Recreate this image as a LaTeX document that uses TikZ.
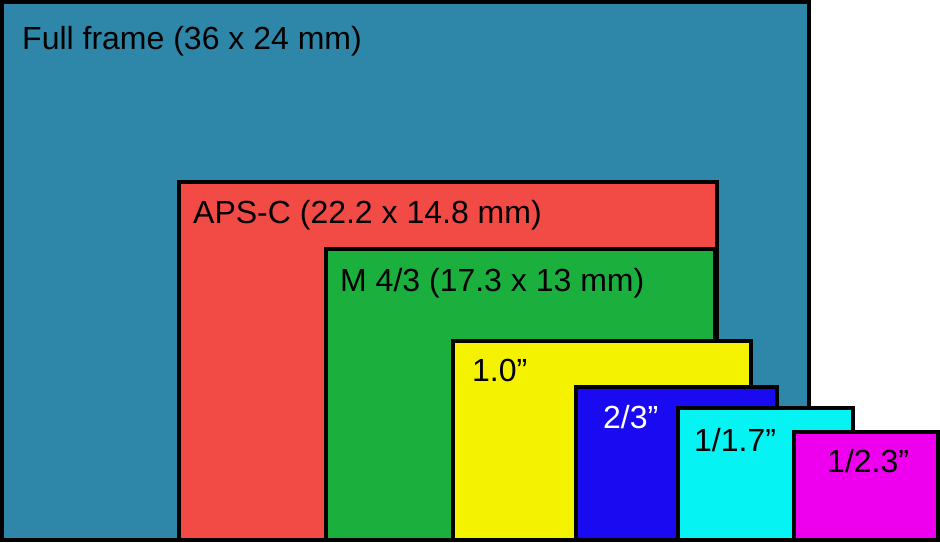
\documentclass[tikz,border=0pt]{standalone}
\usepackage{fontspec}
\setmainfont{Liberation Sans}
\usepackage{tikz}
\usetikzlibrary{positioning}
\definecolor{ffblue}{HTML}{2E87A8}
\definecolor{apscred}{HTML}{F24A45}
\definecolor{mftgreen}{HTML}{1BAF3E}
\definecolor{oneyellow}{HTML}{F5F200}
\definecolor{twothirdblue}{HTML}{1A0AF2}
\definecolor{smallcyan}{HTML}{05F3F3}
\definecolor{tinymagenta}{HTML}{EE00EE}

\begin{document}
\begin{tikzpicture}[
			x=1pt,
			y=-1pt,
			sensor/.style={
					draw=black,
					line width=4pt,
					line join=miter
				},
			every node/.style={
					inner sep=0pt,
					anchor=base west,
					font=\fontsize{32}{38}\selectfont
				}
		]
		\useasboundingbox (0,0) rectangle (940,543);
		\fill[white] (0,0) rectangle (940,543);

		% sensors, largest first
		\filldraw[sensor, fill=ffblue] (2,2) rectangle (809,540);
		\node (ff) at (22,50) {Full frame (36 x 24 mm)};

		\filldraw[sensor, fill=apscred] (179,182) rectangle (717,540);
		\node (apsc) at (193,223) {APS-C (22.2 x 14.8 mm)};

		\filldraw[sensor, fill=mftgreen] (326,249) rectangle (715,540);
		\node (mft) at (340,291) {M 4/3 (17.3 x 13 mm)};

		\filldraw[sensor, fill=oneyellow] (453,341) rectangle (751,540);
		\node (one) at (472,381) {1.0”};

		\filldraw[sensor, fill=twothirdblue] (576,387) rectangle (777,540);
		\node[text=white] (twothird) at (603,428) {2/3”};

		\filldraw[sensor, fill=smallcyan] (678,408) rectangle (853,540);
		\node (onesevenths) at (694,451) {1/1.7”};

		\filldraw[sensor, fill=tinymagenta] (794,432) rectangle (938,540);
		\node (onethird) at (827,472) {1/2.3”};
	\end{tikzpicture}
\end{document}
